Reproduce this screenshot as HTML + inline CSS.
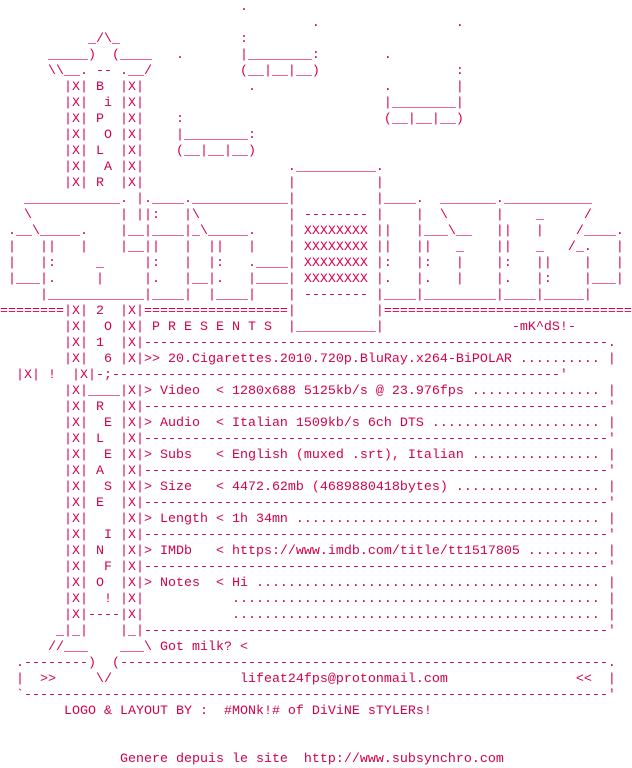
<!DOCTYPE html>
<html><head><meta charset="utf-8"><style>
html,body{margin:0;padding:0;background:#fff;width:632px;height:768px;overflow:hidden}
pre{margin:0;padding:0;font-family:"Liberation Mono",monospace;font-size:13.333px;line-height:16px;color:#d4004c;white-space:pre}
</style></head><body><pre>                              .
                                       .                 .
           _/\_               :
      _____)  (____   .       |________:        .
      \\__. -- .__/           (__|__|__)                 :
        |X| B  |X|             .                .        |
        |X|  i |X|                              |________|
        |X| P  |X|    :                         (__|__|__)
        |X|  O |X|    |________:
        |X| L  |X|    (__|__|__)
        |X|  A |X|                  .__________.
        |X| R  |X|                  |          |
   ____________. |.____.____________|          |____.  _______.___________
   \           | ||:   |\           | -------- |    |  \      |    _     /
 .__\_____.    |__|____|_\_____.    | XXXXXXXX ||   |___\__   ||   |    /____.
 |   ||   |    |__||   |  ||   |    | XXXXXXXX ||   ||   _    ||   _   /_.   |
 |   |:     _     |:   |  |:   .____| XXXXXXXX |:   |:   |    |:   ||    |   |
 |___|.     |     |.   |__|.   |____| XXXXXXXX |.   |.   |    |.   |:    |___|
     |____________|____|  |____|    | -------- |____|_________|____|_____|
========|X| 2  |X|==================|          |===============================
        |X|  O |X| P R E S E N T S  |__________|                -mK^dS!-
        |X| 1  |X|----------------------------------------------------------.
        |X|  6 |X|&gt;&gt; 20.Cigarettes.2010.720p.BluRay.x264-BiPOLAR .......... |
  |X| !  |X|-;--------------------------------------------------------'
        |X|____|X|&gt; Video  &lt; 1280x688 5125kb/s @ 23.976fps ................ |
        |X| R  |X|----------------------------------------------------------'
        |X|  E |X|&gt; Audio  &lt; Italian 1509kb/s 6ch DTS ..................... |
        |X| L  |X|----------------------------------------------------------'
        |X|  E |X|&gt; Subs   &lt; English (muxed .srt), Italian ................ |
        |X| A  |X|----------------------------------------------------------'
        |X|  S |X|&gt; Size   &lt; 4472.62mb (4689880418bytes) .................. |
        |X| E  |X|----------------------------------------------------------'
        |X|    |X|&gt; Length &lt; 1h 34mn ...................................... |
        |X|  I |X|----------------------------------------------------------'
        |X| N  |X|&gt; IMDb   &lt; https://www.imdb.com/title/tt1517805 ......... |
        |X|  F |X|----------------------------------------------------------'
        |X| O  |X|&gt; Notes  &lt; Hi ........................................... |
        |X|  ! |X|           .............................................. |
        |X|----|X|           .............................................. |
       _|_|    |_|----------------------------------------------------------'
      //___    ___\ Got milk? &lt;
  .--------)  (-------------------------------------------------------------.
  |  &gt;&gt;     \/                lifeat24fps@protonmail.com                &lt;&lt;  |
  `-------------------------------------------------------------------------'
        LOGO &amp; LAYOUT BY :  #MONk!# of DiViNE sTYLERs!


               Genere depuis le site  http://www.subsynchro.com</pre></body></html>
